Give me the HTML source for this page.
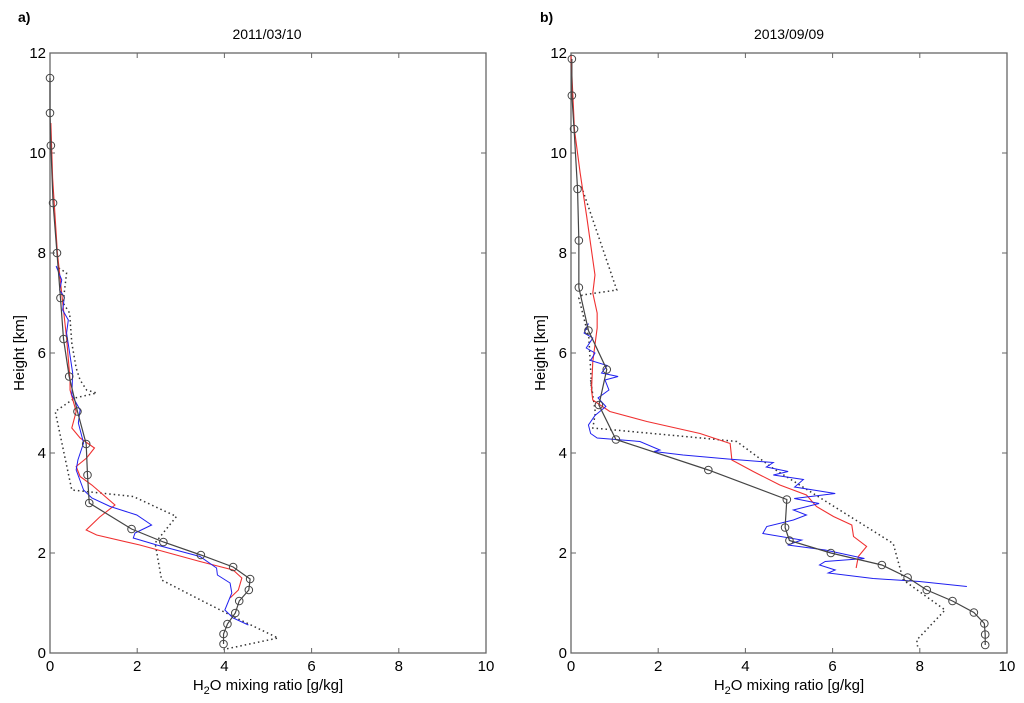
<!DOCTYPE html>
<html><head><meta charset="utf-8"><style>
body{margin:0;background:#fff;}
svg{display:block;font-family:"Liberation Sans",Arial,sans-serif;}
</style></head><body>
<svg id="chart" width="1024" height="703" viewBox="0 0 1024 703"></svg>
<script>
const xTicks=[0,2,4,6,8,10];
const yTicks=[0,2,4,6,8,10,12];
const titles=["2011/03/10","2013/09/09"];
const panelLetters=["a)","b)"];
// Panel a
const aBlackX=[0,0,0.02,0.07,0.16,0.24,0.31,0.44,0.63,0.83,0.86,0.9,1.87,2.6,3.46,4.2,4.59,4.56,4.34,4.25,4.07,3.98,3.98];
const aBlackY=[11.5,10.8,10.15,9.0,8.0,7.1,6.28,5.53,4.83,4.18,3.56,3.0,2.48,2.22,1.96,1.72,1.48,1.26,1.04,0.8,0.58,0.38,0.18];
const aRedX=[0.02,0.06,0.17,0.28,0.38,0.46,0.46,0.6,0.5,0.69,1.02,0.84,0.6,0.69,0.96,1.49,1.14,0.83,1.07,2.06,3.44,4.2,4.4,4.32,4.13];
const aRedY=[10.6,9.5,8.0,7.1,6.3,5.46,5.26,4.83,4.5,4.3,4.1,3.9,3.73,3.53,3.36,2.96,2.72,2.46,2.36,2.16,1.83,1.66,1.5,1.26,1.1];
const aBlueX=[0.14,0.27,0.22,0.33,0.29,0.42,0.38,0.44,0.52,0.5,0.69,0.65,0.77,0.64,0.6,0.77,0.96,1.38,1.99,2.33,1.95,1.91,2.45,3.44,3.82,3.84,4.13,4.17,4.01,4.2,4.55];
const aBlueY=[7.74,7.46,7.26,7.12,6.86,6.66,6.4,6.06,5.6,5.16,4.86,4.6,4.2,3.86,3.66,3.26,3.1,2.93,2.76,2.56,2.4,2.3,2.16,1.93,1.7,1.56,1.4,1.2,0.86,0.7,0.56];
const aDotX=[0.2,0.38,0.3,0.45,0.5,0.6,0.69,0.84,1.07,0.57,0.12,0.5,1.91,2.9,2.41,2.56,3.52,4.2,5.23,3.98];
const aDotY=[7.7,7.6,7.0,6.8,6.2,5.7,5.46,5.26,5.2,5.1,4.83,3.26,3.13,2.73,2.2,1.46,1.03,0.73,0.3,0.07];
// Panel b
const bBlackX=[0.02,0.02,0.07,0.15,0.18,0.18,0.4,0.82,0.64,1.03,3.15,4.95,4.91,5.01,5.96,7.13,7.72,8.16,8.75,9.24,9.48,9.5,9.5];
const bBlackY=[11.88,11.15,10.48,9.28,8.25,7.31,6.45,5.67,4.96,4.27,3.66,3.07,2.51,2.25,2.0,1.76,1.51,1.26,1.04,0.81,0.59,0.37,0.16];
const bRedX=[0,0.08,0.21,0.36,0.55,0.5,0.6,0.6,0.5,0.47,0.5,0.89,1.74,2.96,3.65,3.69,4.18,4.79,5.4,5.63,6.02,6.44,6.48,6.78,6.59,6.54];
const bRedY=[11.95,10.46,9.6,8.73,7.56,7.2,6.8,6.5,5.83,5.26,5.06,4.83,4.63,4.39,4.19,3.86,3.63,3.36,3.16,2.93,2.73,2.56,2.33,2.13,1.93,1.7];
const bBlueX=[0.4,0.3,0.5,0.35,0.55,0.45,0.83,0.7,1.08,0.78,0.87,0.62,0.8,0.55,0.4,0.45,0.6,1.58,2.04,1.9,2.57,3.6,4.64,4.48,4.98,4.64,5.33,5.13,6.06,5.12,5.69,5.1,5.4,5.1,4.49,4.4,5.29,4.97,5.83,6.73,5.83,5.7,6.06,5.9,6.93,7.99,9.08];
const bBlueY=[6.59,6.4,6.3,6.1,6.0,5.85,5.75,5.6,5.53,5.46,5.26,5.1,4.93,4.75,4.56,4.39,4.3,4.23,4.06,4.03,3.96,3.88,3.81,3.72,3.63,3.56,3.47,3.32,3.19,3.09,2.99,2.86,2.76,2.66,2.53,2.39,2.26,2.16,2.06,1.89,1.83,1.76,1.66,1.6,1.49,1.43,1.33];
const bDotX=[0.24,1.05,0.26,0.18,0.41,0.48,0.45,0.56,0.5,3.11,3.8,4.64,7.39,7.62,8.58,7.93,7.95];
const bDotY=[9.33,7.26,7.16,7.1,6.3,5.2,5.46,4.8,4.5,4.29,4.23,3.69,2.19,1.46,0.86,0.26,0.13];

const NS="http://www.w3.org/2000/svg";
const svg=document.getElementById('chart');
function mk(tag,attrs,parent){const e=document.createElementNS(NS,tag);for(const k in attrs)e.setAttribute(k,attrs[k]);(parent||svg).appendChild(e);return e;}
const panels=[
 {x0:50,x1:486,y0:653,y1:53,tx:267,lx:18,ylx:24,black:[aBlackX,aBlackY],red:[aRedX,aRedY],blue:[aBlueX,aBlueY],dot:[aDotX,aDotY]},
 {x0:571,x1:1007,y0:653,y1:53,tx:789,lx:540,ylx:545,black:[bBlackX,bBlackY],red:[bRedX,bRedY],blue:[bBlueX,bBlueY],dot:[bDotX,bDotY]}
];
panels.forEach((p,i)=>{
  const sx=v=>p.x0+(p.x1-p.x0)*v/10;
  const sy=v=>p.y0-(p.y0-p.y1)*v/12;
  const g=mk('g',{});
  
  
  const lt=mk('text',{x:p.lx,y:22,'font-size':14,'font-weight':'bold'},g);lt.textContent=panelLetters[i];
  
  const tt=mk('text',{x:p.tx,y:39,'font-size':14,'text-anchor':'middle'},g);tt.textContent=titles[i];
  
  const fr=mk('rect',{x:p.x0,y:p.y1,width:p.x1-p.x0,height:p.y0-p.y1,fill:'none',stroke:'#666','stroke-width':1.3},g);
  
  xTicks.forEach(v=>{
    const x=sx(v);
    mk('line',{x1:x,y1:p.y0,x2:x,y2:p.y0-5,stroke:'#666'},g);
    mk('line',{x1:x,y1:p.y1,x2:x,y2:p.y1+5,stroke:'#666'},g);
    const t=mk('text',{x:x,y:p.y0+18,'font-size':15,'text-anchor':'middle'},g);t.textContent=v;
    
  });
  yTicks.forEach(v=>{
    const y=sy(v);
    mk('line',{x1:p.x0,y1:y,x2:p.x0+5,y2:y,stroke:'#666'},g);
    mk('line',{x1:p.x1,y1:y,x2:p.x1-5,y2:y,stroke:'#666'},g);
    const t=mk('text',{x:p.x0-4,y:y+5,'font-size':15,'text-anchor':'end'},g);t.textContent=v;
    
  });
  const xl=mk('text',{x:(p.x0+p.x1)/2,y:690,'font-size':15,'text-anchor':'middle'},g);
  xl.innerHTML='H<tspan font-size="11" dy="4">2</tspan><tspan dy="-4">O mixing ratio [g/kg]</tspan>';
  
  const yl=mk('text',{x:0,y:0,'font-size':15,'text-anchor':'middle',transform:`translate(${p.ylx},353) rotate(-90)`},g);
  yl.textContent='Height [km]';
  
  const pts=a=>a[0].map((v,k)=>sx(v)+','+sy(a[1][k])).join(' ');
  const dl=mk('polyline',{points:pts(p.dot),fill:'none',stroke:'#333','stroke-width':1.5,'stroke-dasharray':'1.5,3'},g);
  
  const rl=mk('polyline',{points:pts(p.red),fill:'none',stroke:'#f03030','stroke-width':1.1},g);
  
  const bl=mk('polyline',{points:pts(p.blue),fill:'none',stroke:'#2020f0','stroke-width':1},g);
  
  const kl=mk('polyline',{points:pts(p.black),fill:'none',stroke:'#444','stroke-width':1.2},g);
  
  p.black[0].forEach((v,k)=>{
    const c=mk('circle',{cx:sx(v),cy:sy(p.black[1][k]),r:3.8,fill:'none',stroke:'#444','stroke-width':1},g);
    
    
  });
});
</script>
</body></html>
